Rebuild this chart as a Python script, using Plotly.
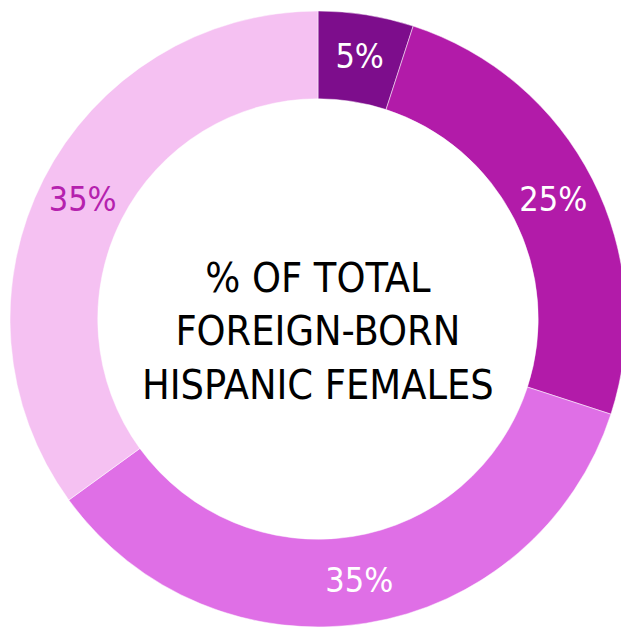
import plotly.graph_objects as go

labels = ["Group A", "Group B", "Group C", "Group D"]
values = [5, 25, 35, 35]
slice_colors = ["#7d0d8c", "#b21ba9", "#df6fe6", "#f5c1f2"]
text_colors = ["#ffffff", "#ffffff", "#ffffff", "#b521ae"]
center_lines = ["% OF TOTAL", "FOREIGN-BORN", "HISPANIC FEMALES"]

font_name = "DejaVu Sans Condensed, Liberation Sans Narrow, Roboto Condensed, sans-serif"

# page body adds an 8px offset, so the ring is shifted up/left to compensate
fig = go.Figure(go.Pie(
    labels=labels,
    values=values,
    hole=0.715,
    sort=False,
    direction="clockwise",
    rotation=0,
    domain=dict(x=[2 / 629, 618 / 629], y=[15 / 634, 631 / 634]),
    marker=dict(colors=slice_colors, line=dict(color="#ffffff", width=0.5)),
    texttemplate="%{value}%",
    textposition="inside",
    insidetextorientation="horizontal",
    textfont=dict(family=font_name, size=34, color=text_colors),
    hoverinfo="label+percent",
    showlegend=False,
))

fig.add_annotation(
    x=310 / 629, y=0.49, xref="paper", yref="paper",
    text="<br>".join(center_lines),
    showarrow=False,
    font=dict(family=font_name, size=41, color="#000000"),
    align="center",
)

fig.update_layout(
    width=629, height=634,
    margin=dict(l=0, r=0, t=0, b=0),
    paper_bgcolor="#ffffff",
    plot_bgcolor="#ffffff",
    uniformtext=dict(minsize=10, mode="show"),
)

fig.write_html("out.html")
